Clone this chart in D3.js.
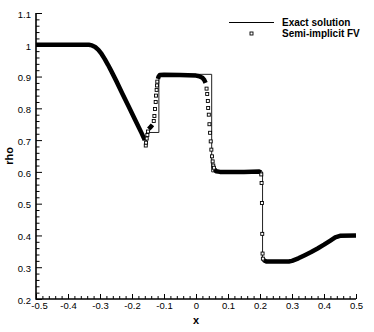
<!DOCTYPE html>
<html>
<head>
<meta charset="utf-8">
<title>rho</title>
<script src="https://d3js.org/d3.v7.min.js"></script>
<style>
  body { margin: 0; background: #fff; }
  svg { display: block; font-family: "Liberation Sans", Arial, sans-serif; }
</style>
</head>
<body>
<script>
// exact solution (piecewise)
const exactX   = [-0.5, -0.325, -0.315, -0.305, -0.295, -0.285, -0.275, -0.265, -0.155, -0.155, -0.116, -0.116, 0.049, 0.049, 0.208, 0.208, 0.295, 0.32, 0.36, 0.40, 0.43, 0.445, 0.5]
const exactRho = [1.0, 1.0, 0.994, 0.985, 0.972, 0.956, 0.938, 0.918, 0.690, 0.724, 0.724, 0.907, 0.907, 0.600, 0.600, 0.318, 0.318, 0.328, 0.348, 0.371, 0.390, 0.400, 0.400]

// semi-implicit FV, parts where the squares sit so close they merge (null = break)
const fvBandX   = [-0.5, -0.335, -0.325, -0.315, -0.305, -0.295, -0.285, -0.275, -0.265, -0.25, -0.23, -0.21, -0.19, -0.17, -0.16, null,
                   -0.148, -0.142, -0.136, null,
                   -0.119, -0.117, -0.113, -0.10, -0.05, 0.0, 0.01, 0.02, 0.026, 0.03, null,
                   0.058, 0.063, 0.075, 0.15, 0.198, 0.203, null,
                   0.212, 0.22, 0.25, 0.29, 0.30, 0.32, 0.34, 0.36, 0.38, 0.40, 0.42, 0.435, 0.45, 0.5]
const fvBandRho = [1.0, 1.0, 0.998, 0.993, 0.984, 0.971, 0.955, 0.937, 0.918, 0.888, 0.846, 0.805, 0.763, 0.722, 0.700, null,
                   0.735, 0.741, 0.748, null,
                   0.893, 0.900, 0.905, 0.906, 0.905, 0.903, 0.901, 0.896, 0.889, 0.880, null,
                   0.608, 0.602, 0.600, 0.600, 0.601, 0.598, null,
                   0.322, 0.318, 0.318, 0.318, 0.320, 0.328, 0.338, 0.348, 0.359, 0.371, 0.384, 0.394, 0.399, 0.400]

// semi-implicit FV, squares that stand apart (in the jumps)
const fvPointX   = [-0.157, -0.156, -0.154, -0.152, -0.150,
                    -0.132, -0.130, -0.128, -0.126, -0.125, -0.123, -0.122, -0.121,
                    0.033, 0.035, 0.037, 0.038, 0.040, 0.042, 0.044, 0.046, 0.048, 0.050, 0.052, 0.054, 0.056,
                    0.204, 0.205, 0.206, 0.207, 0.208, 0.209]
const fvPointRho = [0.683, 0.692, 0.705, 0.716, 0.727,
                    0.760, 0.776, 0.798, 0.820, 0.840, 0.858, 0.872, 0.884,
                    0.862, 0.845, 0.823, 0.801, 0.780, 0.750, 0.723, 0.696, 0.670, 0.649, 0.633, 0.620, 0.613,
                    0.592, 0.565, 0.502, 0.405, 0.343, 0.327]

const xTicks = [-0.5, -0.4, -0.3, -0.2, -0.1, 0, 0.1, 0.2, 0.3, 0.4, 0.5]
const yTicks = [0.2, 0.3, 0.4, 0.5, 0.6, 0.7, 0.8, 0.9, 1.0, 1.1]
const legendLabels = ["Exact solution", "Semi-implicit FV"]

let w = 374
let h = 332
let margin = {top: 13, right: 18, bottom: 33, left: 36}

let svg = d3.select("body")
  .append("svg")
  .attr("width", w)
  .attr("height", h)

let x = d3.scaleLinear().domain([-0.5, 0.5]).range([margin.left, w - margin.right])
let y = d3.scaleLinear().domain([0.2, 1.1]).range([h - margin.bottom, margin.top])

// minor ticks every 0.02
let xMinor = d3.range(0, 51).map(i => -0.5 + i * 0.02).filter(v => Math.abs(v * 10 - Math.round(v * 10)) > 1e-6)
let yMinor = d3.range(0, 46).map(i => 0.2 + i * 0.02).filter(v => Math.abs(v * 10 - Math.round(v * 10)) > 1e-6)

let fmt = d => String(Math.round(d * 10) / 10)

let gx = svg.append("g").attr("transform", `translate(0,${h - margin.bottom})`)
gx.call(d3.axisBottom(x).tickValues(xTicks).tickSize(-5).tickPadding(3).tickFormat(fmt))
gx.append("g").call(d3.axisBottom(x).tickValues(xMinor).tickSize(-3).tickFormat(""))

let gy = svg.append("g").attr("transform", `translate(${margin.left},0)`)
gy.call(d3.axisLeft(y).tickValues(yTicks).tickSize(-6).tickPadding(5).tickFormat(fmt))
gy.append("g").call(d3.axisLeft(y).tickValues(yMinor).tickSize(-3.5).tickFormat(""))

svg.selectAll(".domain").remove()
svg.selectAll(".tick line").attr("stroke", "#000").attr("stroke-width", 1)
svg.selectAll(".tick text").attr("font-size", "9.5px").attr("fill", "#000")
  .attr("font-family", "'Liberation Sans', Arial, sans-serif")
gy.selectAll(".tick text").attr("dy", "0.45em")
// first x label sits a little to the right, clear of the 0.2 label
gx.selectAll(".tick text").filter(d => d === -0.5).attr("dx", 3)

// axis lines (left and bottom only)
svg.append("path")
  .attr("d", `M${x(-0.5)},${y(1.1)}V${y(0.2)}H${x(0.5)}`)
  .attr("fill", "none")
  .attr("stroke", "#000")
  .attr("stroke-width", 1.6)

svg.append("text")
  .attr("x", x(0)).attr("y", h - 8)
  .attr("text-anchor", "middle")
  .attr("font-size", "11px").attr("font-weight", "bold")
  .text("x")

svg.append("text")
  .attr("transform", `translate(13,${(y(0.2) + y(1.1)) / 2}) rotate(-90)`)
  .attr("text-anchor", "middle")
  .attr("font-size", "11px").attr("font-weight", "bold")
  .text("rho")

// exact solution
let exact = exactX.map((d, i) => [d, exactRho[i]])
svg.append("path")
  .datum(exact)
  .attr("d", d3.line().x(d => x(d[0])).y(d => y(d[1])))
  .attr("fill", "none")
  .attr("stroke", "#222")
  .attr("stroke-width", 1)

// numerical solution: merged squares
let band = fvBandX.map((d, i) => [d, fvBandRho[i]])
svg.append("path")
  .datum(band)
  .attr("d", d3.line().defined(d => d[0] !== null).x(d => x(d[0])).y(d => y(d[1])))
  .attr("fill", "none")
  .attr("stroke", "#000")
  .attr("stroke-width", 4.5)
  .attr("stroke-linejoin", "round")

// numerical solution: separate squares
let pts = fvPointX.map((d, i) => [d, fvPointRho[i]])
svg.append("g")
  .selectAll("rect")
  .data(pts)
  .enter()
  .append("rect")
  .attr("x", d => x(d[0]) - 1.5)
  .attr("y", d => y(d[1]) - 1.5)
  .attr("width", 3)
  .attr("height", 3)
  .attr("fill", "#fff")
  .attr("stroke", "#000")
  .attr("stroke-width", 0.9)

// legend
let lg = svg.append("g")
lg.append("line")
  .attr("x1", 229).attr("x2", 274).attr("y1", 22.5).attr("y2", 22.5)
  .attr("stroke", "#000").attr("stroke-width", 1)
lg.append("rect")
  .attr("x", 251.5 - 1.5).attr("y", 33.5 - 1.5).attr("width", 3).attr("height", 3)
  .attr("fill", "#fff").attr("stroke", "#000").attr("stroke-width", 0.9)
lg.selectAll("text")
  .data(legendLabels)
  .enter()
  .append("text")
  .attr("x", 282)
  .attr("y", (d, i) => 22.5 + i * 11)
  .attr("dy", "0.35em")
  .attr("font-size", "10px")
  .attr("font-weight", "bold")
  .text(d => d)
</script>
</body>
</html>
